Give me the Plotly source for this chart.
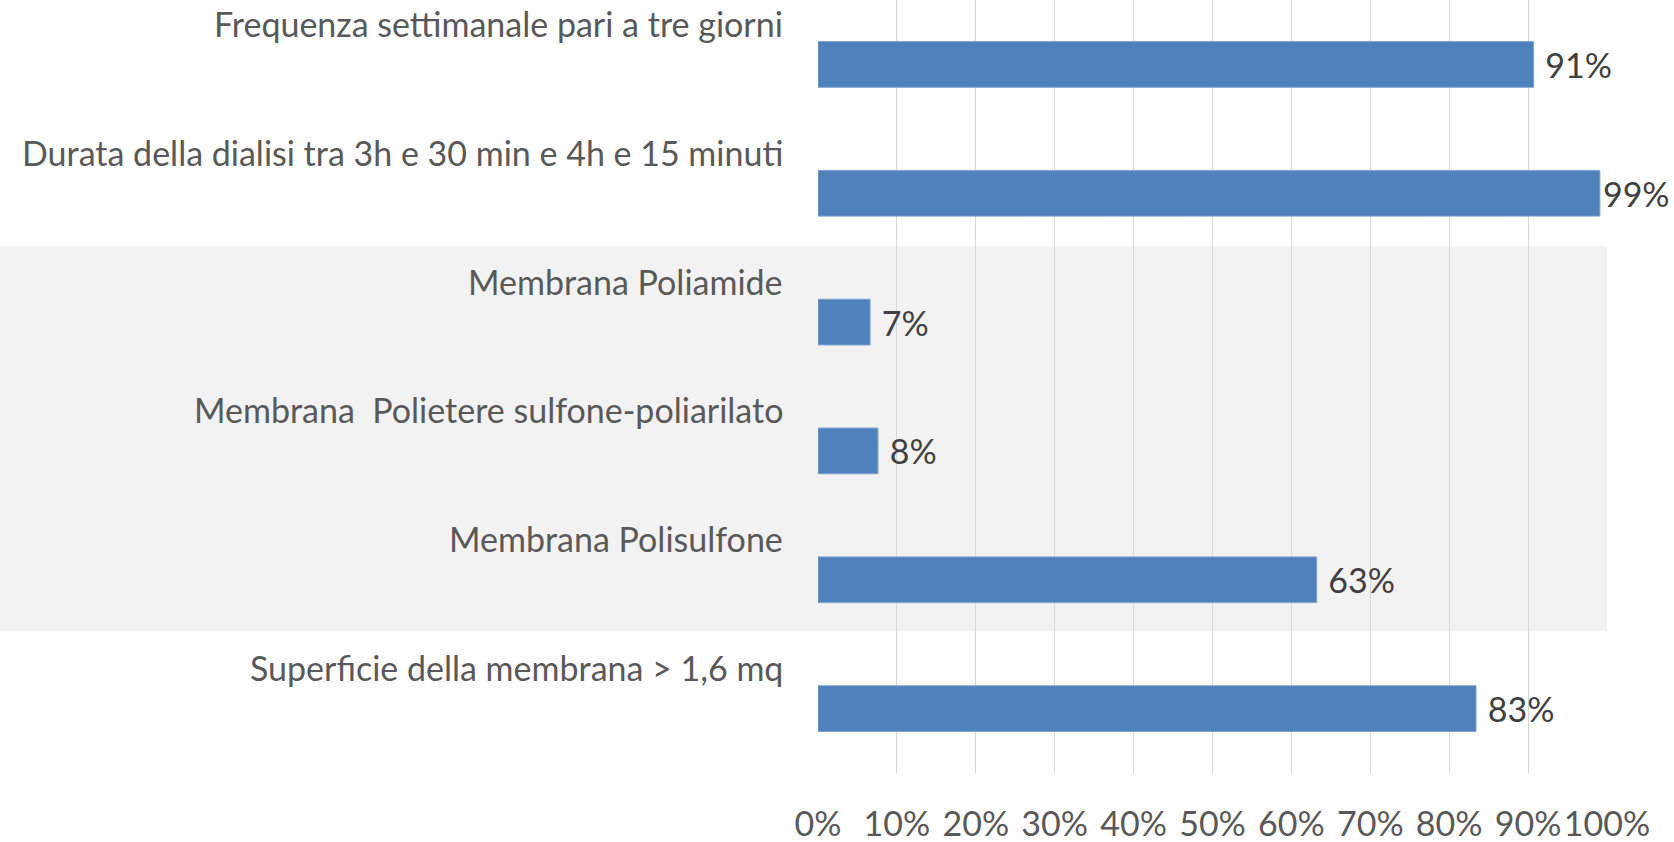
import plotly.graph_objects as go

# ─── Data ─────────────────────────────────────────────────────────────────────
categories = [
    "Frequenza settimanale pari a tre giorni",
    "Durata della dialisi tra 3h e 30 min e 4h e 15 minuti",
    "Membrana Poliamide",
    "Membrana  Polietere sulfone-poliarilato",
    "Membrana Polisulfone",
    "Superficie della membrana > 1,6 mq",
]
percent = [90.7, 99.1, 6.6, 7.6, 63.2, 83.4]
tick_vals = [0, 10, 20, 30, 40, 50, 60, 70, 80, 90, 100]
tick_text = [f"{v}%" for v in tick_vals]

FONT = "Lato, Calibri, sans-serif"
BAR_BLUE = "#4F81BD"

# label sits a little off the bar, except where it would run off the page
label_tpl = ["%{x:.0f}%" if v > 95 else "\u00a0%{x:.0f}%" for v in percent]

fig = go.Figure(go.Bar(
    x=percent,
    y=categories,
    orientation="h",
    marker=dict(color=BAR_BLUE, line=dict(color="#7EA3D2", width=1)),
    texttemplate=label_tpl,
    textposition="outside",
    constraintext="none",
    cliponaxis=False,
    textfont=dict(family=FONT, size=34, color="#404040"),
    hoverinfo="skip",
))

# grey band behind the three membrane rows
fig.add_shape(
    type="rect", xref="paper", yref="y",
    x0=-1.1, x1=1.0, y0=1.41, y1=4.40,
    fillcolor="#F2F2F2", line=dict(width=0), layer="below",
)

# category labels sit above their bars, right aligned
for cat in categories:
    fig.add_annotation(
        x=0, xref="paper", y=cat, yref="y",
        text=cat, showarrow=False,
        xanchor="right", yanchor="middle",
        xshift=-33, yshift=41,
        font=dict(family=FONT, size=34, color="#595959"),
    )

fig.update_layout(
    width=1674, height=842,
    margin=dict(l=818, r=67, t=0, b=69),
    bargap=0.645,
    showlegend=False,
    font=dict(family=FONT, color="#595959"),
    paper_bgcolor="white", plot_bgcolor="rgba(0,0,0,0)",
)
fig.update_xaxes(
    range=[0, 100], tickvals=tick_vals, ticktext=tick_text,
    showgrid=True, gridcolor="#D9D9D9", gridwidth=1,
    zeroline=False, showline=False,
    ticks="", ticklabelstandoff=28,
    tickfont=dict(family=FONT, size=34, color="#595959"),
)
fig.update_yaxes(
    categoryorder="array", categoryarray=categories,
    autorange="reversed", showticklabels=False,
    showgrid=False, zeroline=False, showline=False,
)

# the page's default body margin would push the chart 8px off the corner
fig.write_html(
    "out.html",
    config={"displayModeBar": False},
    post_script="document.body.style.margin = '0';",
)
